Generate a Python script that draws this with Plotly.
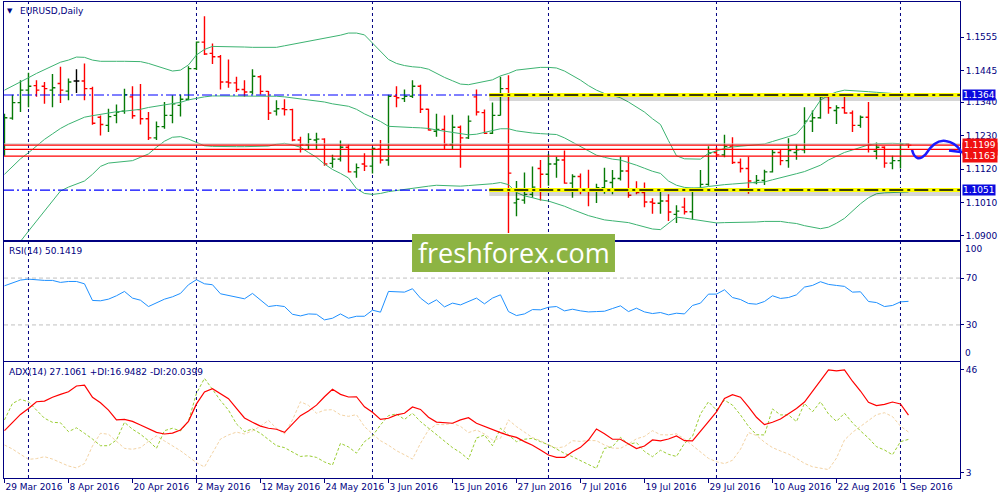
import plotly.graph_objects as go

# ---------------- data ----------------
opens = [1.1192, 1.1288, 1.1339, 1.1380, 1.1395, 1.1393, 1.1380, 1.1402, 1.1377, 1.1410,
         1.1410, 1.1385, 1.1291, 1.1264, 1.1297, 1.1311, 1.1358, 1.1316, 1.1286, 1.1223,
         1.1260, 1.1297, 1.1330, 1.1350, 1.1451, 1.1538, 1.1501, 1.1490, 1.1407, 1.1404,
         1.1382, 1.1374, 1.1424, 1.1376, 1.1311, 1.1319, 1.1316, 1.1216, 1.1200, 1.1216,
         1.1219, 1.1139, 1.1153, 1.1192, 1.1111, 1.1137, 1.1130, 1.1186, 1.1150, 1.1360,
         1.1352, 1.1360, 1.1393, 1.1317, 1.1245, 1.1251, 1.1201, 1.1258, 1.1223, 1.1358,
         1.1306, 1.1238, 1.1297, 1.1385, 1.1009, 1.1018, 1.1037, 1.1122, 1.1103, 1.1137,
         1.1150, 1.1074, 1.1096, 1.1056, 1.1051, 1.1059, 1.1076, 1.1089, 1.1114, 1.1054,
         1.1043, 1.1012, 1.1008, 1.1015, 1.0971, 1.0995, 1.0980, 1.1054, 1.1070, 1.1175,
         1.1167, 1.1195, 1.1142, 1.1122, 1.1076, 1.1083, 1.1111, 1.1175, 1.1148, 1.1175,
         1.1184, 1.1278, 1.1289, 1.1358, 1.1313, 1.1322, 1.1305, 1.1264, 1.1291, 1.1179,
         1.1192, 1.1140, 1.1148, 1.1203]
highs = [1.1302, 1.1365, 1.1413, 1.1437, 1.1413, 1.1407, 1.1433, 1.1457, 1.1418, 1.1449,
         1.1468, 1.1391, 1.1297, 1.1319, 1.1333, 1.1385, 1.1393, 1.1400, 1.1308, 1.1277,
         1.1341, 1.1363, 1.1366, 1.1459, 1.1540, 1.1623, 1.1534, 1.1496, 1.1481, 1.1424,
         1.1413, 1.1449, 1.1429, 1.1377, 1.1347, 1.1350, 1.1319, 1.1227, 1.1238, 1.1240,
         1.1222, 1.1167, 1.1214, 1.1201, 1.1139, 1.1172, 1.1192, 1.1216, 1.1365, 1.1393,
         1.1382, 1.1413, 1.1398, 1.1319, 1.1302, 1.1297, 1.1299, 1.1264, 1.1297, 1.1382,
         1.1316, 1.1339, 1.1424, 1.1429, 1.1081, 1.1109, 1.1129, 1.1150, 1.1170, 1.1161,
         1.1181, 1.1103, 1.1106, 1.1118, 1.1072, 1.1125, 1.1117, 1.1161, 1.1161, 1.1080,
         1.1076, 1.1024, 1.1054, 1.1037, 1.1001, 1.1026, 1.1059, 1.1117, 1.1195, 1.1192,
         1.1233, 1.1225, 1.1155, 1.1161, 1.1101, 1.1118, 1.1186, 1.1186, 1.1222, 1.1201,
         1.1324, 1.1313, 1.1365, 1.1363, 1.1330, 1.1358, 1.1313, 1.1297, 1.1341, 1.1208,
         1.1195, 1.1164, 1.1208, 1.1205]
lows = [1.1164, 1.1283, 1.1308, 1.1324, 1.1358, 1.1335, 1.1324, 1.1338, 1.1347, 1.1371,
        1.1347, 1.1266, 1.1231, 1.1242, 1.1271, 1.1302, 1.1286, 1.1267, 1.1216, 1.1216,
        1.1253, 1.1271, 1.1293, 1.1347, 1.1446, 1.1496, 1.1466, 1.1382, 1.1388, 1.1374,
        1.1358, 1.1366, 1.1366, 1.1282, 1.1297, 1.1297, 1.1212, 1.1175, 1.1186, 1.1186,
        1.1131, 1.1125, 1.1145, 1.1109, 1.1092, 1.1114, 1.1106, 1.1139, 1.1131, 1.1324,
        1.1341, 1.1354, 1.1305, 1.1247, 1.1227, 1.1184, 1.1184, 1.1125, 1.1219, 1.1297,
        1.1236, 1.1236, 1.1297, 1.0910, 1.0965, 1.1006, 1.1026, 1.1017, 1.1065, 1.1092,
        1.1072, 1.1026, 1.1037, 1.0998, 1.1009, 1.1039, 1.1037, 1.1083, 1.1026, 1.1037,
        1.0995, 1.0973, 1.0973, 1.0949, 1.0943, 1.0971, 1.0954, 1.1048, 1.1065, 1.1159,
        1.1159, 1.1137, 1.1109, 1.1039, 1.1070, 1.1068, 1.1109, 1.1133, 1.1125, 1.1151,
        1.1172, 1.1242, 1.1286, 1.1302, 1.1269, 1.1302, 1.1242, 1.1256, 1.1175, 1.1153,
        1.1125, 1.1120, 1.1122, 1.1190]
closes = [1.1289, 1.1339, 1.1380, 1.1393, 1.1380, 1.1385, 1.1388, 1.1380, 1.1407, 1.1410,
          1.1385, 1.1271, 1.1267, 1.1293, 1.1308, 1.1365, 1.1296, 1.1286, 1.1223, 1.1260,
          1.1297, 1.1335, 1.1350, 1.1451, 1.1538, 1.1499, 1.1490, 1.1407, 1.1404, 1.1382,
          1.1374, 1.1426, 1.1376, 1.1305, 1.1319, 1.1316, 1.1216, 1.1200, 1.1218, 1.1219,
          1.1137, 1.1153, 1.1192, 1.1111, 1.1125, 1.1130, 1.1188, 1.1150, 1.1360, 1.1355,
          1.1360, 1.1393, 1.1317, 1.1249, 1.1251, 1.1201, 1.1258, 1.1223, 1.1278, 1.1308,
          1.1238, 1.1297, 1.1385, 1.1107, 1.1021, 1.1037, 1.1061, 1.1103, 1.1137, 1.1150,
          1.1074, 1.1096, 1.1056, 1.1051, 1.1059, 1.1081, 1.1089, 1.1114, 1.1034, 1.1043,
          1.1012, 1.1008, 1.1015, 1.0979, 1.0982, 1.0980, 1.1054, 1.1070, 1.1173, 1.1167,
          1.1195, 1.1142, 1.1122, 1.1081, 1.1083, 1.1111, 1.1175, 1.1148, 1.1181, 1.1184,
          1.1278, 1.1289, 1.1358, 1.1322, 1.1322, 1.1305, 1.1264, 1.1291, 1.1201, 1.1192,
          1.1140, 1.1148, 1.1203, 1.1199]

bb_upper = [1.1380, 1.1393, 1.1407, 1.1421, 1.1435, 1.1448, 1.1461, 1.1472, 1.1479, 1.1489,
            1.1488, 1.1479, 1.1475, 1.1474, 1.1475, 1.1475, 1.1475, 1.1474, 1.1468, 1.1460,
            1.1450, 1.1443, 1.1446, 1.1463, 1.1496, 1.1514, 1.1524, 1.1524, 1.1523, 1.1523,
            1.1522, 1.1521, 1.1521, 1.1520, 1.1521, 1.1526, 1.1531, 1.1535, 1.1540, 1.1545,
            1.1552, 1.1556, 1.1561, 1.1568, 1.1568, 1.1562, 1.1534, 1.1507, 1.1481, 1.1468,
            1.1461, 1.1457, 1.1455, 1.1449, 1.1435, 1.1422, 1.1411, 1.1400, 1.1398, 1.1404,
            1.1409, 1.1414, 1.1427, 1.1435, 1.1446, 1.1449, 1.1453, 1.1455, 1.1455, 1.1453,
            1.1443, 1.1428, 1.1413, 1.1395, 1.1380, 1.1369, 1.1361, 1.1355, 1.1341, 1.1324,
            1.1308, 1.1286, 1.1267, 1.1214, 1.1164, 1.1154, 1.1153, 1.1153, 1.1172, 1.1181,
            1.1188, 1.1193, 1.1195, 1.1197, 1.1200, 1.1203, 1.1211, 1.1218, 1.1227, 1.1236,
            1.1266, 1.1308, 1.1347, 1.1363, 1.1374, 1.1380, 1.1379, 1.1377, 1.1375, 1.1373,
            1.1371, 1.1368, 1.1365, 1.1365]
bb_middle = [1.1103, 1.1129, 1.1154, 1.1174, 1.1196, 1.1218, 1.1236, 1.1254, 1.1268, 1.1280,
             1.1291, 1.1296, 1.1300, 1.1306, 1.1309, 1.1311, 1.1314, 1.1317, 1.1323, 1.1327,
             1.1332, 1.1335, 1.1340, 1.1348, 1.1354, 1.1358, 1.1361, 1.1361, 1.1361, 1.1361,
             1.1361, 1.1361, 1.1361, 1.1361, 1.1360, 1.1358, 1.1355, 1.1352, 1.1349, 1.1345,
             1.1341, 1.1335, 1.1330, 1.1327, 1.1317, 1.1302, 1.1290, 1.1277, 1.1261, 1.1259,
             1.1258, 1.1257, 1.1256, 1.1254, 1.1249, 1.1245, 1.1240, 1.1236, 1.1233, 1.1235,
             1.1240, 1.1247, 1.1253, 1.1253, 1.1246, 1.1242, 1.1239, 1.1237, 1.1236, 1.1234,
             1.1223, 1.1209, 1.1194, 1.1181, 1.1166, 1.1159, 1.1153, 1.1150, 1.1142, 1.1133,
             1.1123, 1.1113, 1.1106, 1.1081, 1.1067, 1.1060, 1.1058, 1.1059, 1.1063, 1.1067,
             1.1069, 1.1071, 1.1074, 1.1075, 1.1076, 1.1078, 1.1085, 1.1091, 1.1098, 1.1105,
             1.1112, 1.1122, 1.1133, 1.1150, 1.1162, 1.1175, 1.1183, 1.1192, 1.1200, 1.1204,
             1.1205, 1.1205, 1.1204, 1.1203]
bb_lower = [1.0815, 1.0850, 1.0885, 1.0916, 1.0949, 1.0982, 1.1015, 1.1048, 1.1061, 1.1070,
            1.1081, 1.1103, 1.1129, 1.1140, 1.1142, 1.1145, 1.1148, 1.1159, 1.1170, 1.1192,
            1.1212, 1.1225, 1.1227, 1.1219, 1.1207, 1.1197, 1.1195, 1.1194, 1.1194, 1.1194,
            1.1194, 1.1194, 1.1194, 1.1196, 1.1202, 1.1205, 1.1200, 1.1192, 1.1175, 1.1159,
            1.1137, 1.1119, 1.1106, 1.1091, 1.1056, 1.1040, 1.1037, 1.1040, 1.1046, 1.1050,
            1.1054, 1.1057, 1.1060, 1.1064, 1.1067, 1.1066, 1.1065, 1.1064, 1.1066, 1.1068,
            1.1069, 1.1072, 1.1076, 1.1069, 1.1043, 1.1032, 1.1026, 1.1019, 1.1015, 1.1007,
            1.0998, 1.0987, 1.0976, 1.0967, 1.0960, 1.0953, 1.0950, 1.0946, 1.0944, 1.0937,
            1.0929, 1.0923, 1.0921, 1.0940, 1.0962, 1.0959, 1.0955, 1.0951, 1.0946, 1.0943,
            1.0944, 1.0944, 1.0945, 1.0945, 1.0946, 1.0948, 1.0949, 1.0948, 1.0944, 1.0941,
            1.0934, 1.0928, 1.0924, 1.0929, 1.0942, 1.0958, 1.0982, 1.1006, 1.1026, 1.1039,
            1.1042, 1.1043, 1.1044, 1.1045]

rsi = [63.4, 65.7, 68.3, 69.1, 68.3, 68.0, 68.0, 66.3, 67.1, 67.1,
       65.1, 50.9, 50.6, 52.0, 54.9, 58.6, 52.9, 51.1, 45.7, 49.1,
       52.0, 54.0, 56.9, 64.3, 68.6, 65.1, 64.3, 56.6, 55.1, 53.4,
       52.3, 56.9, 51.7, 45.7, 46.6, 45.7, 39.1, 37.7, 39.4, 39.1,
       34.3, 35.7, 39.4, 35.7, 37.4, 37.4, 42.6, 40.9, 58.6, 58.3,
       58.0, 60.9, 52.9, 47.7, 51.4, 45.4, 48.6, 47.1, 50.0, 52.9,
       48.0, 52.9, 55.7, 41.4, 38.0, 39.4, 43.1, 42.9, 45.1, 45.7,
       42.0, 43.4, 42.0, 41.1, 41.4, 41.7, 44.0, 46.3, 41.4, 44.3,
       41.1, 39.7, 40.6, 38.6, 40.0, 39.4, 46.6, 48.6, 56.3, 56.3,
       60.0, 53.4, 51.7, 48.3, 47.7, 50.0, 54.9, 52.6, 53.4, 55.7,
       62.3, 63.7, 66.9, 64.6, 63.7, 62.9, 58.0, 58.3, 50.0, 49.1,
       45.7, 46.6, 49.7, 50.1419]

adx = [20.6, 24.1, 27.4, 29.9, 32.7, 33.0, 34.6, 35.8, 36.9, 39.3,
       39.7, 34.6, 32.3, 29.2, 25.1, 25.3, 24.5, 23.0, 21.3, 19.9,
       19.2, 19.6, 20.9, 24.5, 31.8, 36.8, 38.2, 36.2, 34.0, 29.9,
       25.9, 24.1, 22.5, 21.6, 21.2, 19.9, 23.4, 26.9, 28.8, 31.3,
       34.8, 37.9, 35.8, 34.7, 34.8, 30.6, 28.3, 25.3, 25.8, 27.2,
       27.9, 30.5, 29.5, 26.2, 24.2, 24.1, 23.7, 25.1, 26.0, 23.7,
       22.3, 21.0, 19.8, 18.6, 17.8, 16.0, 14.5, 12.5, 10.4, 9.4,
       9.4, 11.8, 13.6, 16.7, 21.3, 19.3, 17.0, 17.0, 15.0, 13.1,
       14.2, 16.7, 16.3, 17.1, 18.4, 16.4, 16.3, 20.6, 24.4, 28.5,
       34.1, 35.7, 34.6, 30.6, 26.2, 23.1, 24.1, 25.5, 27.6, 29.9,
       32.6, 36.9, 41.3, 46.0, 45.6, 46.0, 41.3, 37.2, 32.5, 31.1,
       31.6, 32.6, 31.8, 27.1061]
plus_di = [25.1, 32.0, 33.7, 32.7, 29.2, 25.8, 24.1, 23.9, 20.2, 21.8,
           19.5, 17.1, 14.3, 14.3, 16.7, 24.1, 21.2, 19.1, 16.4, 13.2,
           20.6, 21.6, 20.5, 24.6, 36.2, 42.5, 37.9, 33.2, 29.2, 23.4,
           20.2, 21.3, 19.5, 16.7, 14.3, 13.5, 11.8, 9.8, 10.1, 9.4,
           7.5, 6.2, 15.3, 13.8, 11.2, 16.0, 18.4, 23.0, 26.9, 27.6,
           25.3, 27.9, 24.4, 21.6, 18.8, 16.0, 13.5, 11.4, 8.6, 17.5,
           18.8, 14.3, 21.6, 18.8, 16.0, 17.0, 17.4, 16.0, 14.7, 12.9,
           11.1, 9.7, 8.0, 6.2, 4.8, 13.2, 13.9, 17.8, 14.9, 15.6,
           11.9, 9.7, 12.4, 10.7, 9.8, 15.3, 18.2, 27.6, 32.7, 29.2,
           33.4, 31.3, 27.2, 22.4, 18.9, 18.8, 29.7, 27.2, 27.2, 24.4,
           32.0, 28.5, 32.7, 27.6, 24.5, 27.9, 23.9, 20.5, 17.5, 13.9,
           12.5, 10.5, 16.0, 16.9482]
minus_di = [14.6, 12.9, 10.7, 8.6, 8.9, 9.7, 8.7, 7.2, 5.8, 5.0,
            6.8, 14.2, 19.5, 19.1, 16.0, 13.2, 12.8, 13.5, 16.1, 18.4,
            16.3, 14.3, 12.2, 9.7, 7.2, 5.4, 11.1, 17.1, 18.8, 20.0,
            19.2, 20.5, 22.5, 24.9, 21.6, 19.2, 25.1, 32.7, 31.2, 27.9,
            29.2, 29.4, 27.2, 26.6, 27.3, 22.3, 19.2, 16.4, 14.5, 12.2,
            10.5, 8.7, 15.3, 20.9, 23.2, 23.1, 23.7, 22.4, 19.8, 20.9,
            19.2, 16.7, 17.4, 25.1, 22.3, 20.0, 17.7, 16.4, 14.6, 13.3,
            13.9, 16.4, 16.1, 16.5, 16.4, 14.6, 13.3, 13.2, 15.0, 17.2,
            18.2, 20.6, 18.9, 18.8, 19.3, 17.1, 14.3, 11.7, 9.0, 7.6,
            6.8, 8.2, 12.8, 19.8, 18.6, 15.8, 13.5, 12.1, 10.8, 9.0,
            6.9, 5.5, 4.8, 4.3, 9.1, 16.7, 19.9, 22.3, 24.8, 27.3,
            28.1, 26.5, 22.5, 20.0399]

date_tick_index = [0, 8, 16, 24, 32, 40, 48, 56, 64, 72, 80, 88, 96, 104, 112]
date_tick_text = ["29 Mar 2016", "8 Apr 2016", "20 Apr 2016", "2 May 2016", "12 May 2016",
                  "24 May 2016", "3 Jun 2016", "15 Jun 2016", "27 Jun 2016", "7 Jul 2016",
                  "19 Jul 2016", "29 Jul 2016", "10 Aug 2016", "22 Aug 2016", "1 Sep 2016"]
month_start_index = [3, 24, 46, 68, 89, 112]
price_ticks = [1.0900, 1.1010, 1.1120, 1.1230, 1.1340, 1.1445, 1.1555]
key_levels = [1.1364, 1.1051]
key_level_start = 60.6
red_levels = [1.1199, 1.1185, 1.1163]
bid_level = 1.1203
rsi_levels = [30, 70]
adx_ticks = [3, 46]

# ---------------- figure ----------------
NAVY = "#000080"
FONT = "DejaVu Sans"
n = len(closes)
x = list(range(n))
x_range = [-0.06, 119.44]

fig = go.Figure()

for band in (bb_upper, bb_middle, bb_lower):
    fig.add_trace(go.Scatter(x=x, y=band, mode="lines", line=dict(color="#3cb371", width=1),
                             hoverinfo="skip", xaxis="x", yaxis="y"))

is_doji = [opens[i] == closes[i] for i in x]


def pick(vals, keep):
    return [v if k else None for v, k in zip(vals, keep)]


not_doji = [not d for d in is_doji]
fig.add_trace(go.Ohlc(x=x, open=pick(opens, not_doji), high=pick(highs, not_doji),
                      low=pick(lows, not_doji), close=pick(closes, not_doji),
                      increasing=dict(line=dict(color="#067a06", width=1.4)),
                      decreasing=dict(line=dict(color="#ff0000", width=1.4)),
                      tickwidth=0.36, xaxis="x", yaxis="y", hoverinfo="skip"))
fig.add_trace(go.Ohlc(x=x, open=pick(opens, is_doji), high=pick(highs, is_doji),
                      low=pick(lows, is_doji), close=pick(closes, is_doji),
                      increasing=dict(line=dict(color="#000000", width=1.4)),
                      decreasing=dict(line=dict(color="#000000", width=1.4)),
                      tickwidth=0.36, xaxis="x", yaxis="y", hoverinfo="skip"))

fig.add_trace(go.Scatter(x=x, y=rsi, mode="lines", line=dict(color="#1e90ff", width=1),
                         hoverinfo="skip", xaxis="x2", yaxis="y2"))

fig.add_trace(go.Scatter(x=x, y=minus_di, mode="lines",
                         line=dict(color="#f3d3a4", width=1, dash="3px,2px"),
                         hoverinfo="skip", xaxis="x3", yaxis="y3"))
fig.add_trace(go.Scatter(x=x, y=plus_di, mode="lines",
                         line=dict(color="#9acd32", width=1, dash="3px,2px"),
                         hoverinfo="skip", xaxis="x3", yaxis="y3"))
fig.add_trace(go.Scatter(x=x, y=adx, mode="lines", line=dict(color="#ff0000", width=1.2),
                         hoverinfo="skip", xaxis="x3", yaxis="y3"))

shapes = []
for m in month_start_index:
    shapes.append(dict(type="line", xref="x", yref="paper", x0=m, x1=m, y0=0, y1=1,
                       line=dict(color=NAVY, width=1, dash="3px,3px"), layer="below"))
for lv in rsi_levels:
    shapes.append(dict(type="line", xref="x2 domain", yref="y2", x0=0, x1=1, y0=lv, y1=lv,
                       line=dict(color="#c0c0c0", width=1, dash="4px,3px"), layer="below"))

shapes.append(dict(type="line", xref="x domain", yref="y", x0=0, x1=1, y0=bid_level, y1=bid_level,
                   line=dict(color="#c8c8c8", width=1), layer="above"))
for lv in red_levels:
    shapes.append(dict(type="line", xref="x domain", yref="y", x0=0, x1=1, y0=lv, y1=lv,
                       line=dict(color="#ff0000", width=1.3), layer="above"))

for lv in key_levels:
    shapes.append(dict(type="line", xref="x", yref="y", x0=x_range[0], x1=key_level_start, y0=lv, y1=lv,
                       line=dict(color="#0000ff", width=1.2, dash="10px,3px,2px,3px"), layer="above"))
    shapes.append(dict(type="line", xref="x", yref="y", x0=key_level_start, x1=x_range[1],
                       y0=lv - 0.0008, y1=lv - 0.0008,
                       line=dict(color="rgba(0,0,0,0.16)", width=7), layer="above"))
    shapes.append(dict(type="line", xref="x", yref="y", x0=key_level_start, x1=x_range[1], y0=lv, y1=lv,
                       line=dict(color="#ffff00", width=4), layer="above"))
    shapes.append(dict(type="line", xref="x", yref="y", x0=key_level_start, x1=x_range[1], y0=lv, y1=lv,
                       line=dict(color="#000000", width=1.5, dash="14px,4px,3px,4px"), layer="above"))

# hand-drawn forecast arrow (paper coords)
shapes.append(dict(type="path", xref="paper", yref="paper",
                   path=("M 0.9498,0.6891 Q 0.9540,0.6600 0.9640,0.6800 "
                         "Q 0.9740,0.7120 0.9850,0.7080 Q 0.9950,0.7050 1.0010,0.6870 "
                         "M 0.9885,0.6880 L 1.0045,0.6840"),
                   line=dict(color="#1a1aff", width=2.6), layer="above"))

# logo box
shapes.append(dict(type="rect", xref="paper", yref="paper", x0=0.4268, x1=0.6391, y0=0.4328, y1=0.5126,
                   fillcolor="#8db443", line=dict(width=0), layer="above"))

annotations = [
    dict(text="▼", xref="paper", yref="paper", x=0.0063, y=0.9811, xanchor="center", yanchor="middle",
         showarrow=False, font=dict(family=FONT, size=7, color=NAVY)),
    dict(text="EURUSD,Daily", xref="paper", yref="paper", x=0.0146, y=0.9811, xanchor="left",
         yanchor="middle", showarrow=False, font=dict(family=FONT, size=9, color=NAVY)),
    dict(text="RSI(14) 50.1419", xref="paper", yref="paper", x=0.0031, y=0.4769, xanchor="left",
         yanchor="middle", showarrow=False, font=dict(family=FONT, size=9, color=NAVY)),
    dict(text="ADX(14) 27.1061 +DI:16.9482 -DI:20.0399", xref="paper", yref="paper", x=0.0031, y=0.2227,
         xanchor="left", yanchor="middle", showarrow=False, font=dict(family=FONT, size=9, color=NAVY)),
    dict(text="100", xref="paper", yref="paper", x=1.0031, y=0.4811, xanchor="left", yanchor="middle",
         showarrow=False, font=dict(family=FONT, size=9, color=NAVY)),
    dict(text="0", xref="paper", yref="paper", x=1.0031, y=0.2626, xanchor="left", yanchor="middle",
         showarrow=False, font=dict(family=FONT, size=9, color=NAVY)),
    dict(text="freshforex.com", xref="paper", yref="paper", x=0.5330, y=0.4727, xanchor="center",
         yanchor="middle", showarrow=False, font=dict(family="Open Sans", size=27, color="white")),
]
for lv in key_levels:
    annotations.append(dict(text=f"{lv:.4f}", xref="paper", yref="y", x=1.0021, y=lv, xanchor="left",
                            yanchor="middle", showarrow=False, bgcolor="#0a0ae0", borderpad=0,
                            font=dict(family=FONT, size=9, color="white")))
for lv in [red_levels[1], red_levels[2], red_levels[0]]:
    annotations.append(dict(text=f"{lv:.4f}", xref="paper", yref="y", x=1.0021, y=lv, xanchor="left",
                            yanchor="middle", showarrow=False, bgcolor="#f01010", borderpad=1,
                            font=dict(family=FONT, size=9, color="white")))

axis_common = dict(showline=True, mirror=True, linecolor=NAVY, linewidth=1, showgrid=False,
                   zeroline=False, tickfont=dict(family=FONT, size=9, color=NAVY), tickcolor=NAVY)

fig.update_layout(
    width=1000, height=500,
    margin=dict(l=4, r=40, t=2, b=22),
    paper_bgcolor="white", plot_bgcolor="white",
    showlegend=False, hovermode=False,
    font=dict(family=FONT, size=9, color=NAVY),
    xaxis=dict(domain=[0, 1], anchor="y", range=x_range, showticklabels=False, ticks="",
               rangeslider=dict(visible=False), **axis_common),
    xaxis2=dict(domain=[0, 1], anchor="y2", range=x_range, showticklabels=False, ticks="",
                **axis_common),
    xaxis3=dict(domain=[0, 1], anchor="y3", range=x_range, tickvals=date_tick_index,
                ticktext=date_tick_text, ticks="outside", ticklen=4, tickangle=0,
                ticklabelposition="outside right", **axis_common),
    yaxis=dict(domain=[0.5, 1], anchor="x", range=[1.08868, 1.16702], side="right",
               tickvals=price_ticks, ticktext=[f"{v:.4f}" for v in price_ticks],
               ticks="outside", ticklen=3, **axis_common),
    yaxis2=dict(domain=[0.2458, 0.4958], anchor="x2", range=[-0.8, 100.8], side="right",
                tickvals=rsi_levels, ticktext=[str(v) for v in rsi_levels],
                ticks="outside", ticklen=3, **axis_common),
    yaxis3=dict(domain=[0, 0.2437], anchor="x3", range=[0.78, 49.35], side="right",
                tickvals=adx_ticks, ticktext=[str(v) for v in adx_ticks],
                ticks="outside", ticklen=3, **axis_common),
    shapes=shapes,
    annotations=annotations,
)

fig.write_html("out.html",
               config={"displayModeBar": False, "staticPlot": True},
               post_script="document.body.style.margin='0';document.body.style.padding='0';")
